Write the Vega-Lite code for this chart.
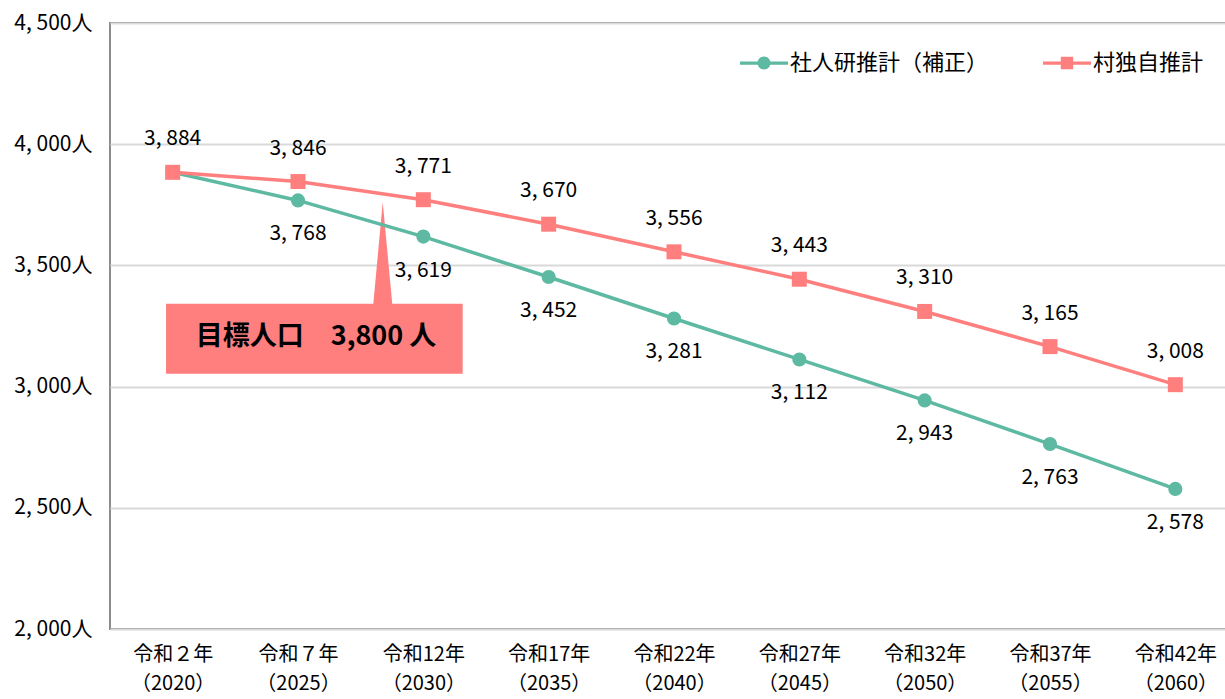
{
  "$schema": "https://vega.github.io/schema/vega-lite/v6.json",
  "width": 1128,
  "height": 606,
  "padding": {"left": 10, "top": 12, "right": 0, "bottom": 0},
  "background": "white",
  "config": {
    "view": {"stroke": "#8c8c8c", "strokeWidth": 2},
    "font": "Noto Sans CJK JP"
  },
  "datasets": {
    "pop": [
      {"year": "令和２年（2020）", "series": "社人研推計（補正）", "value": 3884, "labeled": false},
      {"year": "令和７年（2025）", "series": "社人研推計（補正）", "value": 3768, "labeled": true},
      {"year": "令和12年（2030）", "series": "社人研推計（補正）", "value": 3619, "labeled": true},
      {"year": "令和17年（2035）", "series": "社人研推計（補正）", "value": 3452, "labeled": true},
      {"year": "令和22年（2040）", "series": "社人研推計（補正）", "value": 3281, "labeled": true},
      {"year": "令和27年（2045）", "series": "社人研推計（補正）", "value": 3112, "labeled": true},
      {"year": "令和32年（2050）", "series": "社人研推計（補正）", "value": 2943, "labeled": true},
      {"year": "令和37年（2055）", "series": "社人研推計（補正）", "value": 2763, "labeled": true},
      {"year": "令和42年（2060）", "series": "社人研推計（補正）", "value": 2578, "labeled": true},
      {"year": "令和２年（2020）", "series": "村独自推計", "value": 3884, "labeled": true},
      {"year": "令和７年（2025）", "series": "村独自推計", "value": 3846, "labeled": true},
      {"year": "令和12年（2030）", "series": "村独自推計", "value": 3771, "labeled": true},
      {"year": "令和17年（2035）", "series": "村独自推計", "value": 3670, "labeled": true},
      {"year": "令和22年（2040）", "series": "村独自推計", "value": 3556, "labeled": true},
      {"year": "令和27年（2045）", "series": "村独自推計", "value": 3443, "labeled": true},
      {"year": "令和32年（2050）", "series": "村独自推計", "value": 3310, "labeled": true},
      {"year": "令和37年（2055）", "series": "村独自推計", "value": 3165, "labeled": true},
      {"year": "令和42年（2060）", "series": "村独自推計", "value": 3008, "labeled": true}
    ],
    "box": [
      {"x1": 0.447, "x2": 2.814, "y1": 3053, "y2": 3342, "tx": 1.644, "ty": 3204, "label": "目標人口　3,800 人"}
    ],
    "tri": [
      {"px": 2.101, "py": 3342},
      {"px": 2.176, "py": 3761},
      {"px": 2.252, "py": 3342}
    ]
  },
  "layer": [
    {
      "layer": [
        {
          "data": {"name": "box"},
          "mark": {"type": "rect", "color": "#FF7F7F"},
          "encoding": {
            "x": {"field": "x1", "type": "quantitative", "scale": {"domain": [0, 9], "nice": false, "zero": false}, "axis": null},
            "x2": {"field": "x2"},
            "y": {"field": "y1", "type": "quantitative"},
            "y2": {"field": "y2"}
          }
        },
        {
          "data": {"name": "tri"},
          "mark": {"type": "area", "color": "#FF7F7F", "interpolate": "linear"},
          "encoding": {
            "x": {"field": "px", "type": "quantitative", "axis": null},
            "y": {"field": "py", "type": "quantitative"},
            "y2": {"datum": 3300}
          }
        },
        {
          "data": {"name": "box"},
          "mark": {"type": "text", "font": "Noto Sans CJK JP", "fontWeight": "bold", "fontSize": 27, "color": "black", "align": "center", "baseline": "middle"},
          "encoding": {
            "x": {"field": "tx", "type": "quantitative", "axis": null},
            "y": {"field": "ty", "type": "quantitative"},
            "text": {"field": "label"}
          }
        }
      ]
    },
    {
      "data": {"name": "pop"},
      "transform": [{"calculate": "replace(format(datum.value, ','), ',', ', ')", "as": "txt"}],
      "encoding": {
        "x": {
          "field": "year", "type": "ordinal", "sort": null,
          "scale": {"paddingInner": 0, "paddingOuter": 0.021},
          "axis": {
            "title": null, "ticks": false, "domain": false, "labelAngle": 0,
            "labelFont": "Noto Sans CJK JP", "labelFontSize": 20, "labelColor": "black",
            "labelLineHeight": 29, "labelPadding": 15,
            "labelExpr": "[split(datum.label, '（')[0], '（' + split(datum.label, '（')[1]]"
          }
        },
        "y": {
          "field": "value", "type": "quantitative",
          "scale": {"domain": [2000, 4500], "nice": false, "zero": false},
          "axis": {
            "title": null, "ticks": false, "domain": false, "values": [2000, 2500, 3000, 3500, 4000, 4500],
            "gridColor": "#d9d9d9", "gridWidth": 2,
            "labelFont": "Noto Sans CJK JP", "labelFontSize": 21, "labelColor": "black",
            "labelPadding": 18, "minExtent": 100, "maxExtent": 100,
            "labelExpr": "replace(format(datum.value, ','), ',', ', ') + '人'"
          }
        },
        "color": {
          "field": "series", "type": "nominal",
          "scale": {"domain": ["社人研推計（補正）", "村独自推計"], "range": ["#5DB9A1", "#FF7F7F"]},
          "legend": {
            "title": null, "orient": "none", "direction": "horizontal",
            "legendX": 643, "legendY": 29, "padding": 0,
            "labelFont": "Noto Sans CJK JP", "labelFontSize": 22, "labelColor": "black", "labelLimit": 400,
            "symbolSize": 169, "labelOffset": 15, "columnPadding": 53,
            "encode": {
              "symbols": {
                "update": {
                  "shape": {"signal": "datum.value == '村独自推計' ? 'M-3.7,-0.25H3.7V0.25H-3.7Z M-0.95,-0.95H0.95V0.95H-0.95Z' : 'M-3.7,-0.25H3.7V0.25H-3.7Z M1,0A1,1 0 1,1 -1,0A1,1 0 1,1 1,0Z'"},
                  "fill": {"scale": "color", "field": "value"},
                  "stroke": {"value": "transparent"},
                  "strokeWidth": {"value": 0},
                  "opacity": {"value": 1}
                }
              }
            }
          }
        }
      },
      "layer": [
        {"mark": {"type": "line", "strokeWidth": 3.5}},
        {
          "transform": [{"filter": "datum.series == '社人研推計（補正）'"}],
          "mark": {"type": "point", "filled": true, "opacity": 1, "shape": "circle", "size": 200}
        },
        {
          "transform": [{"filter": "datum.series == '村独自推計'"}],
          "mark": {"type": "point", "filled": true, "opacity": 1, "shape": "square", "size": 225}
        },
        {
          "transform": [{"filter": "datum.series == '社人研推計（補正）' && datum.labeled"}],
          "mark": {"type": "text", "dy": 34, "font": "Noto Sans CJK JP", "fontSize": 21, "color": "black"},
          "encoding": {
            "text": {"field": "txt", "type": "nominal"},
            "color": {"value": "black"}
          }
        },
        {
          "transform": [{"filter": "datum.series == '村独自推計' && datum.labeled"}],
          "mark": {"type": "text", "dy": -33, "font": "Noto Sans CJK JP", "fontSize": 21, "color": "black"},
          "encoding": {
            "text": {"field": "txt", "type": "nominal"},
            "color": {"value": "black"}
          }
        }
      ]
    }
  ],
  "resolve": {"scale": {"x": "independent"}}
}
